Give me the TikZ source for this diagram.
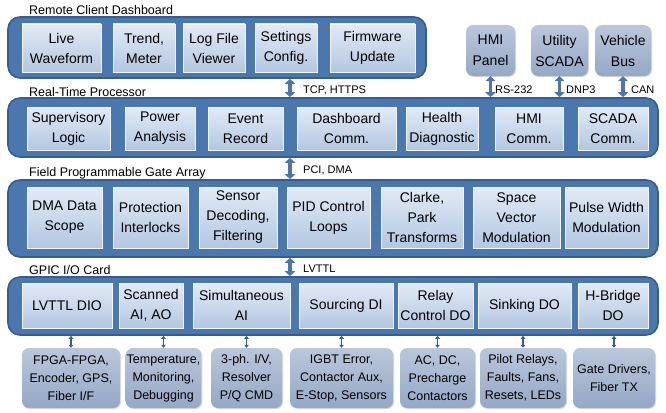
\documentclass[tikz,border=0pt]{standalone}
\usepackage{fontspec}
\setmainfont{Liberation Sans}
\usetikzlibrary{arrows.meta, shadows}
\definecolor{panelblue}{HTML}{4A77AE}
\definecolor{paneledge}{HTML}{385D8A}
\definecolor{cardtop}{HTML}{E2EAF5}
\definecolor{cardbot}{HTML}{B3C7E1}
\definecolor{devtop}{HTML}{BAC7DB}
\definecolor{devbot}{HTML}{94A8C6}
\definecolor{busblue}{HTML}{4B76AC}
\tikzset{
  panel/.style={draw=paneledge, line width=1.6pt, fill=panelblue,
                rounded corners=12pt, inner sep=0pt},
  card/.style={draw=white!85!cardbot, line width=0.6pt, top color=cardtop,
               bottom color=cardbot, align=center, inner sep=1pt,
               font=\fontsize{14}{20}\selectfont,
               drop shadow={opacity=0.35, shadow xshift=1pt, shadow yshift=-1pt}},
  device/.style={top color=devtop, bottom color=devbot, rounded corners=7pt,
                 align=center, inner sep=1pt, font=\fontsize{12.5}{18}\selectfont,
                 drop shadow={opacity=0.3, shadow xshift=1pt, shadow yshift=-1pt}},
  tier/.style={anchor=base west, font=\fontsize{12.5}{15}\selectfont, inner sep=0pt},
  buslabel/.style={anchor=base west, font=\fontsize{11}{13}\selectfont, inner sep=0pt},
  bus/.style={busblue, line width=3.2pt,
              {Triangle[width=10pt,length=5pt]}-{Triangle[width=10pt,length=5pt]}},
  wire/.style={paneledge, line width=1.2pt,
               {Triangle[width=4.5pt,length=3pt]}-{Triangle[width=4.5pt,length=3pt]}}
}
\begin{document}
\begin{tikzpicture}[x=1pt, y=-1pt]
  \useasboundingbox (0,0) rectangle (666,412);
  % tiers
  \node[panel, minimum width=418, minimum height=61] (dash) at (217,47.5) {};
  \node[panel, minimum width=650, minimum height=59] (rtp) at (333,127.5) {};
  \node[panel, minimum width=650, minimum height=77] (fpga) at (333,218.5) {};
  \node[panel, minimum width=650, minimum height=58] (gpic) at (333,306) {};
  \node[tier] (dashlbl) at (29,15) {Remote Client Dashboard};
  \node[tier] (rtplbl) at (29,96) {Real-Time Processor};
  \node[tier] (fpgalbl) at (29,176) {Field Programmable Gate Array};
  \node[tier] (gpiclbl) at (29,274) {GPIC I/O Card};

  % remote client dashboard
  \foreach \a/\b/\n/\t in {22/101/live/{Live\\Waveform}, 113/175/trend/{Trend,\\Meter},
      183/245/logview/{Log File\\Viewer}, 255/317/settings/{Settings\\Config.},
      330/415/firmware/{Firmware\\Update}}
    \node[card, minimum width={\b-\a}, minimum height=48] (\n) at ({(\a+\b)/2},48) {\t};

  % real-time processor
  \foreach \a/\b/\n/\t in {27/110/superv/{Supervisory\\Logic}, 125/195/power/{Power\\Analysis},
      208/283/event/{Event\\Record}, 297/396/dashcomm/{Dashboard\\Comm.},
      406/478/health/{Health\\Diagnostic}, 495/563/hmicomm/{HMI\\Comm.},
      578/648/scadacomm/{SCADA\\Comm.}}
    \node[card, minimum width={\b-\a}, minimum height=43] (\n) at ({(\a+\b)/2},128.5) {\t};

  % fpga
  \foreach \a/\b/\n/\t in {27/102/dmascope/{DMA Data\\Scope}, 113/188/protect/{Protection\\Interlocks},
      199/277/sensor/{Sensor\\Decoding,\\Filtering}, 287/370/pid/{PID Control\\Loops},
      381/463/clarke/{Clarke,\\Park\\Transforms}, 473/560/svm/{Space\\Vector\\Modulation},
      565/648/pwm/{Pulse Width\\Modulation}}
    \node[card, minimum width={\b-\a}, minimum height=61] (\n) at ({(\a+\b)/2},217.5) {\t};

  % gpic i/o card
  \foreach \a/\b/\n/\t in {22/112/lvdio/{LVTTL DIO}, 119/183/scanned/{Scanned\\AI, AO},
      193/290/simul/{Simultaneous\\AI}, 299/393/sourcing/{Sourcing DI},
      398/473/relay/{Relay\\Control DO}, 478/571/sinking/{Sinking DO},
      578/648/hbridge/{H-Bridge\\DO}}
    \node[card, minimum width={\b-\a}, minimum height=45] (\n) at ({(\a+\b)/2},305.5) {\t};

  % field devices
  \foreach \a/\b/\n/\t in {22/120/fibers/{FPGA-FPGA,\\Encoder, GPS,\\Fiber I/F},
      127/200/temps/{Temperature,\\Monitoring,\\Debugging},
      211/282/phases/{3-ph. I/V,\\Resolver\\P/Q CMD},
      290/393/igbt/{IGBT Error,\\Contactor Aux,\\E-Stop, Sensors},
      400/475/contactors/{AC, DC,\\Precharge\\Contactors},
      480/566/pilots/{Pilot Relays,\\Faults, Fans,\\Resets, LEDs},
      573/655/gates/{Gate Drivers,\\Fiber TX}}
    \node[device, minimum width={\b-\a}, minimum height=60] (\n) at ({(\a+\b)/2},378) {\t};
  \foreach \n in {fibers, temps, phases, igbt, contactors, pilots, gates}
    \draw[wire] (\n.north) -- (\n.north |- gpic.south);

  % external links
  \node[device, font=\fontsize{14}{21}\selectfont, minimum width=49, minimum height=51]
    (hmipanel) at (490.5,50.5) {HMI\\Panel};
  \node[device, font=\fontsize{14}{21}\selectfont, minimum width=57, minimum height=51]
    (utility) at (559.5,50.5) {Utility\\SCADA};
  \node[device, font=\fontsize{14}{21}\selectfont, minimum width=56, minimum height=51]
    (vehicle) at (623,50.5) {Vehicle\\Bus};
  \draw[bus] (hmipanel.south) -- (hmipanel.south |- rtp.north);
  \draw[bus] (utility.south) -- (utility.south |- rtp.north);
  \draw[bus] (vehicle.south) -- (vehicle.south |- rtp.north);
  \node[buslabel] (rslbl) at (495,93) {RS-232};
  \node[buslabel] (dnplbl) at (566,93) {DNP3};
  \node[buslabel] (canlbl) at (631,93) {CAN};

  % backbone between tiers
  \coordinate (spine) at (290,0);
  \draw[bus] (spine |- dash.south) -- (spine |- rtp.north);
  \draw[bus] (spine |- rtp.south) -- (spine |- fpga.north);
  \draw[bus] (spine |- fpga.south) -- (spine |- gpic.north);
  \node[buslabel] (tcplbl) at (303,93) {TCP, HTTPS};
  \node[buslabel] (pcilbl) at (303,173) {PCI, DMA};
  \node[buslabel] (lvlbl) at (303,272) {LVTTL};
\end{tikzpicture}
\end{document}
